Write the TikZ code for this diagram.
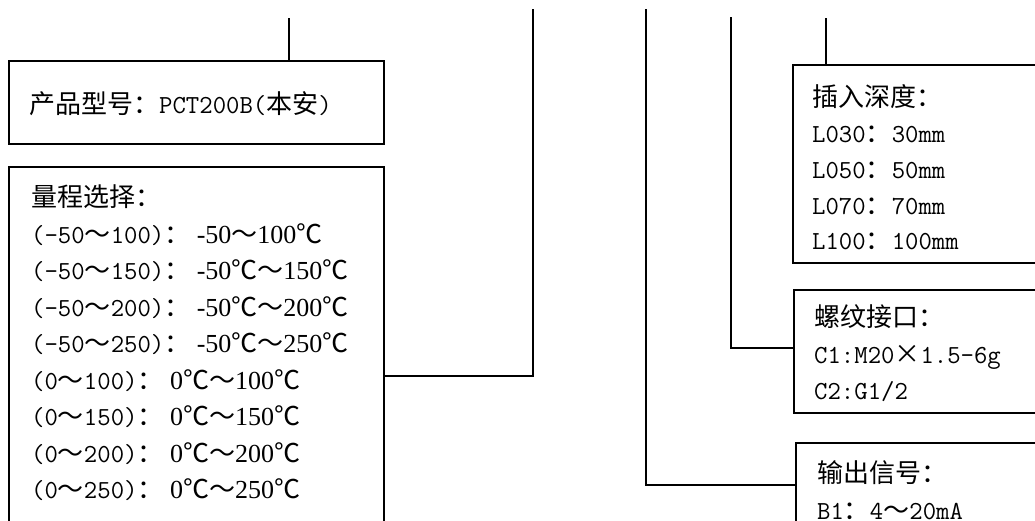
\documentclass[tikz,border=0pt]{standalone}
\usepackage{fontspec}
\setmainfont{Liberation Serif}
\newfontfamily\zhfont{Noto Sans CJK SC}
\newcommand{\zh}[1]{{\zhfont #1}}
\newcommand{\hw}[1]{{\ttfamily #1}}
\usetikzlibrary{positioning}
\tikzset{
x=1pt, y=-1pt, % one unit per pixel, y grows downwards
wire/.style={line width=1.6pt}, % the connectors
codebox/.style={draw, line width=1.6pt, inner sep=0pt, anchor=north west}, % the frames
codetext/.style={align=left, inner sep=0pt, anchor=north west,
  font=\fontsize{26pt}{36.5pt}\selectfont}, % the text in the frames
}

\begin{document}
\begin{tikzpicture}
\useasboundingbox (0,0) rectangle (1035,520);
\clip (0,0) rectangle (1035,520);
% order code line, cut off at the top
\node[codetext, anchor=base east] (codename) at (401,-2.5) {\hw{PCT200B(}\zh{本安}\hw{)}};
\node[codetext, anchor=base west] (coderange) at (464,-2.5) {\hw{(-50}\zh{～}\hw{100)}};
% frames
\node[codebox, minimum width=375pt, minimum height=83pt] (model) at (8,60) {};
\node[codebox, minimum width=375pt, minimum height=418pt] (range) at (8,166) {};
\node[codebox, minimum width=260pt, minimum height=198pt] (depth) at (792,64) {};
\node[codebox, minimum width=260pt, minimum height=123pt] (thread) at (793,289) {};
\node[codebox, minimum width=260pt, minimum height=84pt] (output) at (795,442) {};
% texts
\node[codetext, below right=31.5pt and 21pt of model.north west] (modeltext)
  {\zh{产品型号：}\hw{PCT200B(}\zh{本安}\hw{)}};
\node[codetext, below right=18.5pt and 23pt of range.north west] (rangetext)
  {\zh{量程选择：}\\
   \hw{(-50}\zh{～}\hw{100)}\zh{：} -50\zh{～}100\zh{℃}\\
   \hw{(-50}\zh{～}\hw{150)}\zh{：} -50\zh{℃～}150\zh{℃}\\
   \hw{(-50}\zh{～}\hw{200)}\zh{：} -50\zh{℃～}200\zh{℃}\\
   \hw{(-50}\zh{～}\hw{250)}\zh{：} -50\zh{℃～}250\zh{℃}\\
   \hw{(0}\zh{～}\hw{100)}\zh{：} 0\zh{℃～}100\zh{℃}\\
   \hw{(0}\zh{～}\hw{150)}\zh{：} 0\zh{℃～}150\zh{℃}\\
   \hw{(0}\zh{～}\hw{200)}\zh{：} 0\zh{℃～}200\zh{℃}\\
   \hw{(0}\zh{～}\hw{250)}\zh{：} 0\zh{℃～}250\zh{℃}};
\node[codetext, font=\fontsize{26pt}{35.8pt}\selectfont,
  below right=20.5pt and 20pt of depth.north west] (depthtext)
  {\zh{插入深度：}\\
   \hw{L030}\zh{：}\hw{30mm}\\
   \hw{L050}\zh{：}\hw{50mm}\\
   \hw{L070}\zh{：}\hw{70mm}\\
   \hw{L100}\zh{：}\hw{100mm}};
\node[codetext, below right=15.5pt and 21pt of thread.north west] (threadtext)
  {\zh{螺纹接口：}\\
   \hw{C1:M20}\makebox[1em]{\zh{×}}\hw{1.5-6g}\\
   \hw{C2:G1/2}};
\node[codetext, below right=18.5pt and 22pt of output.north west] (outputtext)
  {\zh{输出信号：}\\
   \hw{B1}\zh{：}\hw{4}\zh{～}\hw{20mA}};
% connectors
\coordinate (modeltop) at (289,18);
\coordinate (rangetop) at (533,9);
\coordinate (outputtop) at (646,9);
\coordinate (threadtop) at (731,17);
\coordinate (depthtop) at (826,18);
\draw[wire] (modeltop) -- (modeltop |- model.north);
\draw[wire] (range.east) -| (rangetop);
\draw[wire] (output.west) -| (outputtop);
\draw[wire] ([yshift=3.5pt]thread.west) -| (threadtop);
\draw[wire] (depthtop) -- (depthtop |- depth.north);
\end{tikzpicture}
\end{document}
